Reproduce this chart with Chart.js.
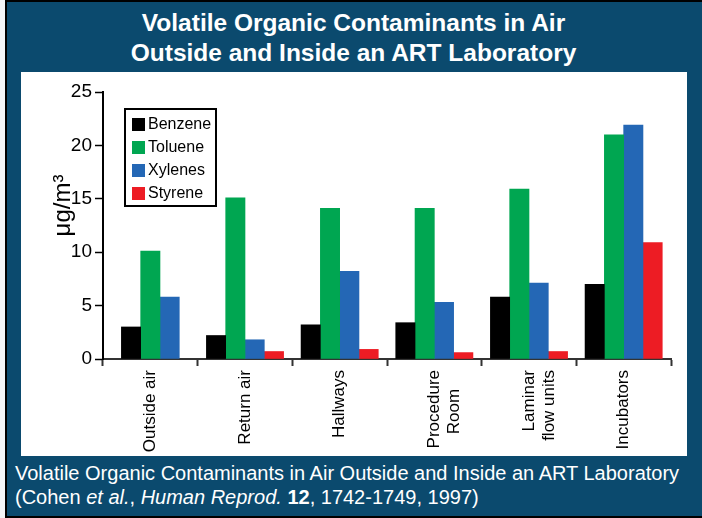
<!DOCTYPE html>
<html>
<head>
<meta charset="utf-8">
<script src="https://cdn.jsdelivr.net/npm/chart.js@4"></script>
<style>
  body { margin: 0; background: #f4f5f7; font-family: "Liberation Sans", Arial, sans-serif; }
  #frame { position: absolute; left: 5px; top: 0; width: 697px; height: 514px; background: #0b4a6e;
           border-left: 2px solid #000; border-top: 2px solid #000; border-bottom: 2px solid #000; box-sizing: content-box; }
  #title { position: absolute; left: 5px; width: 697px; top: 8px; color: #fff; font-weight: bold; font-size: 24.5px;
           line-height: 30px; text-align: center; }
  #panel { position: absolute; left: 21px; top: 72px; width: 666px; height: 384px; background: #fff; }
  #caption { position: absolute; left: 15px; top: 461px; color: #fff; font-size: 20px; line-height: 24px; }
</style>
</head>
<body>
<div id="frame"></div>
<div id="title">Volatile Organic Contaminants in Air<br>Outside and Inside an ART Laboratory</div>
<div id="panel"><canvas id="chart" width="666" height="384"></canvas></div>
<div id="caption">Volatile Organic Contaminants in Air Outside and Inside an ART Laboratory<br>(Cohen <i>et al.</i>, <i>Human Reprod.</i> <b>12</b>, 1742-1749, 1997)</div>
<script>
const categories = ['Outside air', 'Return air', 'Hallways', ['Procedure', 'Room    '], [' Laminar', 'flow units'], 'Incubators']
const seriesNames = ['Benzene', 'Toluene', 'Xylenes', 'Styrene']
const seriesColors = ['#000000', '#00a651', '#2467b5', '#ed1c24']
const benzene = [3.0, 2.2, 3.2, 3.4, 5.8, 7.0]
const toluene = [10.1, 15.1, 14.1, 14.1, 15.9, 21.0]
const xylenes = [5.8, 1.8, 8.2, 5.3, 7.1, 21.9]
const styrene = [null, 0.7, 0.9, 0.6, 0.7, 10.9]
const yTicks = [0, 5, 10, 15, 20, 25]

const chartCanvas = document.getElementById('chart').getContext('2d')

// legend box drawn inside the plot area
const boxLegend = {
  id: 'boxLegend',
  afterDatasetsDraw(chart) {
    const ctx = chart.ctx
    ctx.save()
    ctx.fillStyle = '#fff'
    ctx.fillRect(104, 37, 91, 97)
    ctx.strokeStyle = '#000'
    ctx.lineWidth = 2
    ctx.strokeRect(104, 37, 91, 97)
    ctx.font = '16px "Liberation Sans", Arial, sans-serif'
    ctx.textBaseline = 'middle'
    chart.data.datasets.forEach((ds, i) => {
      const y = 52 + i * 23
      ctx.fillStyle = ds.backgroundColor
      ctx.fillRect(111, y - 6, 13, 13)
      ctx.fillStyle = '#000'
      ctx.fillText(ds.label, 127, y + 1)
    })
    ctx.restore()
  }
}

const allData = [benzene, toluene, xylenes, styrene]

const chart = new Chart(chartCanvas, {
  type: 'bar',
  data: {
    labels: categories,
    datasets: seriesNames.map((name, i) => ({
      label: name,
      data: allData[i],
      backgroundColor: seriesColors[i],
      barThickness: 19.3,
      skipNull: true
    }))
  },
  options: {
    responsive: false,
    animation: false,
    layout: { padding: { top: 20, right: 16, left: 0, bottom: 0 } },
    plugins: { legend: { display: false }, tooltip: { enabled: false } },
    scales: {
      x: {
        grid: {
          drawOnChartArea: false, tickLength: 7, tickWidth: 2,
          color: (c) => c.index === categories.length ? 'rgba(0,0,0,0)' : '#333'
        },
        border: { color: '#333', width: 2 },
        ticks: {
          color: '#000', font: { size: 17, family: '"Liberation Sans", Arial, sans-serif' },
          minRotation: 90, maxRotation: 90, autoSkip: false, padding: 4
        },
        afterFit(scale) { scale.height = 97 }
      },
      y: {
        min: 0, max: 25,
        afterBuildTicks(scale) { scale.ticks = yTicks.map(v => ({ value: v })) },
        grid: { drawOnChartArea: false, tickLength: 8, tickWidth: 1.5, color: '#000' },
        border: { color: '#000', width: 2 },
        ticks: { color: '#000', padding: 3, font: { size: 19, family: '"Liberation Sans", Arial, sans-serif' } },
        title: {
          display: true, text: '      μg/m³', color: '#000',
          font: { size: 24, family: '"Liberation Sans", Arial, sans-serif' },
          padding: { top: 28, bottom: 0 }
        },
        afterFit(scale) { scale.width = 82 }
      }
    }
  },
  plugins: [boxLegend]
})
</script>
</body>
</html>
